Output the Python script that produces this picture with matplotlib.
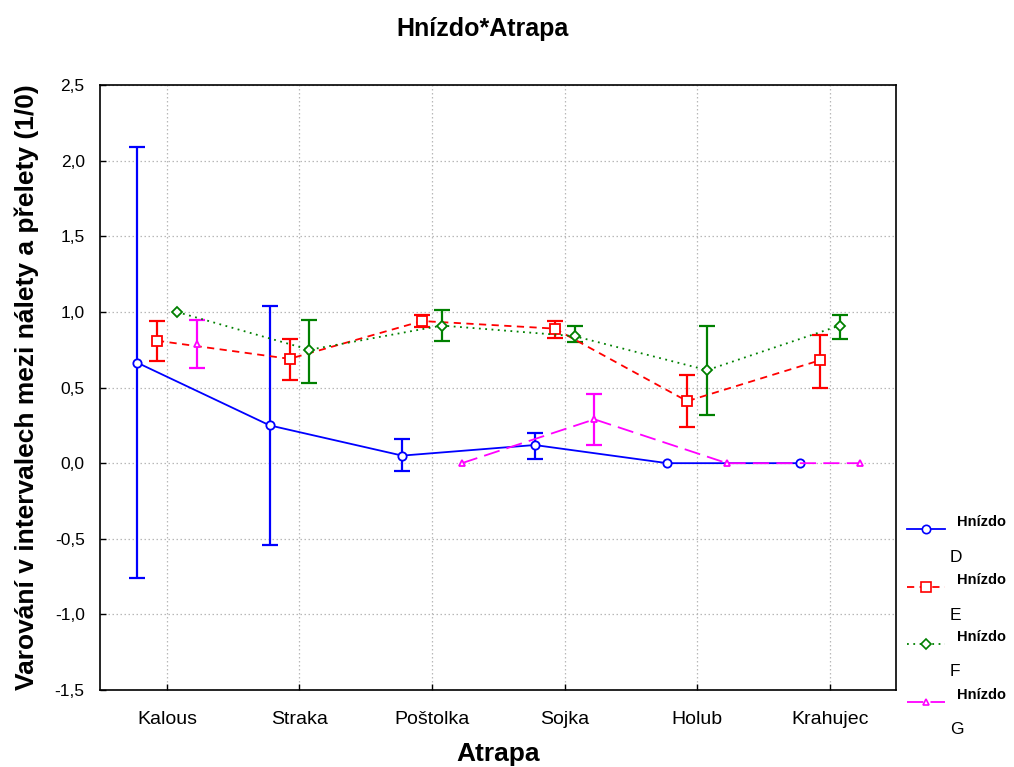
import numpy as np
import matplotlib
matplotlib.use("Agg")
import matplotlib.pyplot as plt
from matplotlib.lines import Line2D

# ---------------- data ----------------
categories = ["Kalous", "Straka", "Poštolka", "Sojka", "Holub", "Krahujec"]
series_names = ["D", "E", "F", "G"]

mean_D = [0.665, 0.25, 0.05, 0.12, 0.0, 0.0]
low_D = [-0.76, -0.54, -0.05, 0.03, np.nan, np.nan]
high_D = [2.09, 1.04, 0.16, 0.20, np.nan, np.nan]

mean_E = [0.81, 0.69, 0.94, 0.89, 0.41, 0.68]
low_E = [0.675, 0.55, 0.90, 0.83, 0.24, 0.50]
high_E = [0.94, 0.82, 0.98, 0.94, 0.58, 0.845]

mean_F = [1.0, 0.75, 0.91, 0.84, 0.615, 0.91]
low_F = [np.nan, 0.53, 0.81, 0.80, 0.32, 0.82]
high_F = [np.nan, 0.95, 1.01, 0.91, 0.91, 0.98]

mean_G = [0.79, np.nan, 0.0, 0.29, 0.0, 0.0]
low_G = [0.63, np.nan, np.nan, 0.12, np.nan, np.nan]
high_G = [0.95, np.nan, np.nan, 0.46, np.nan, np.nan]

yticks = [-1.5, -1.0, -0.5, 0.0, 0.5, 1.0, 1.5, 2.0, 2.5]
ytick_labels = ["-1,5", "-1,0", "-0,5", "0,0", "0,5", "1,0", "1,5", "2,0", "2,5"]

# ---------------- style ----------------
plt.rcParams['font.family'] = ['Liberation Sans', 'DejaVu Sans']

fig = plt.figure(figsize=(10.14, 7.67), dpi=100)
ax = fig.add_axes([0.0986, 0.1004, 0.7850, 0.7886])

styles = {
    "D": dict(color="#0000ff", ls="-", marker="o", ms=6, offset=-0.225),
    "E": dict(color="#ff0000", ls=(0, (4, 3)), marker="s", ms=7, offset=-0.075),
    "F": dict(color="#008000", ls=(0, (1, 2.5)), marker="D", ms=5.5, offset=0.075),
    "G": dict(color="#ff00ff", ls=(0, (9, 4)), marker="^", ms=5, offset=0.225),
}
data = {
    "D": (mean_D, low_D, high_D),
    "E": (mean_E, low_E, high_E),
    "F": (mean_F, low_F, high_F),
    "G": (mean_G, low_G, high_G),
}

xbase = np.arange(len(categories))
for name in series_names:
    st = styles[name]
    m, lo, hi = (np.array(a, dtype=float) for a in data[name])
    x = xbase + st["offset"]
    ax.plot(x, m, color=st["color"], ls=st["ls"], lw=1.3, marker=st["marker"],
            ms=st["ms"], mfc="white", mec=st["color"], mew=1.3, zorder=3)
    yerr = np.vstack([m - lo, hi - m])
    ok = ~np.isnan(lo)
    ax.errorbar(x[ok], m[ok], yerr=yerr[:, ok], fmt="none", ecolor=st["color"],
                elinewidth=1.6, capsize=5.5, capthick=1.6, zorder=2)

ax.set_xlim(-0.505, 5.5)
ax.set_ylim(-1.5, 2.5)
ax.set_xticks(xbase)
ax.set_xticklabels(categories, fontsize=14)
ax.set_yticks(yticks)
ax.set_yticklabels(ytick_labels, fontsize=12.5)
ax.tick_params(axis="x", direction="in", length=4, width=1, pad=15)
ax.tick_params(axis="y", direction="in", length=4, width=1, pad=11)
ax.grid(True, color="#b8b8b8", ls=(0, (1.2, 2)), lw=0.9)
for sp in ax.spines.values():
    sp.set_linewidth(1.2)

ax.set_xlabel("Atrapa", fontsize=19, fontweight="bold", labelpad=10)
ax.set_ylabel("Varování v intervalech mezi nálety a přelety (1/0)", fontsize=19,
              fontweight="bold", labelpad=11)
fig.text(0.476, 0.962, "Hnízdo*Atrapa", ha="center", va="center",
         fontsize=18, fontweight="bold")

# ---------------- legend ----------------
W, H = 1014, 767
ly = [529, 587, 644, 702]
for name, y in zip(series_names, ly):
    st = styles[name]
    yf = 1 - y / H
    fig.add_artist(Line2D([907 / W, 945 / W], [yf, yf], color=st["color"],
                          ls=st["ls"], lw=1.3, transform=fig.transFigure))
    fig.add_artist(Line2D([926 / W], [yf], marker=st["marker"], ms=st["ms"],
                          mfc="white", mec=st["color"], mew=1.2,
                          transform=fig.transFigure))
    fig.text(957 / W, 1 - (y - 7) / H, "Hnízdo", fontsize=10.5, fontweight="bold",
             va="center", ha="left")
    fig.text(950 / W, 1 - (y + 28) / H, name, fontsize=12.5,
             va="center", ha="left")

fig.savefig("out.png", dpi=100)
